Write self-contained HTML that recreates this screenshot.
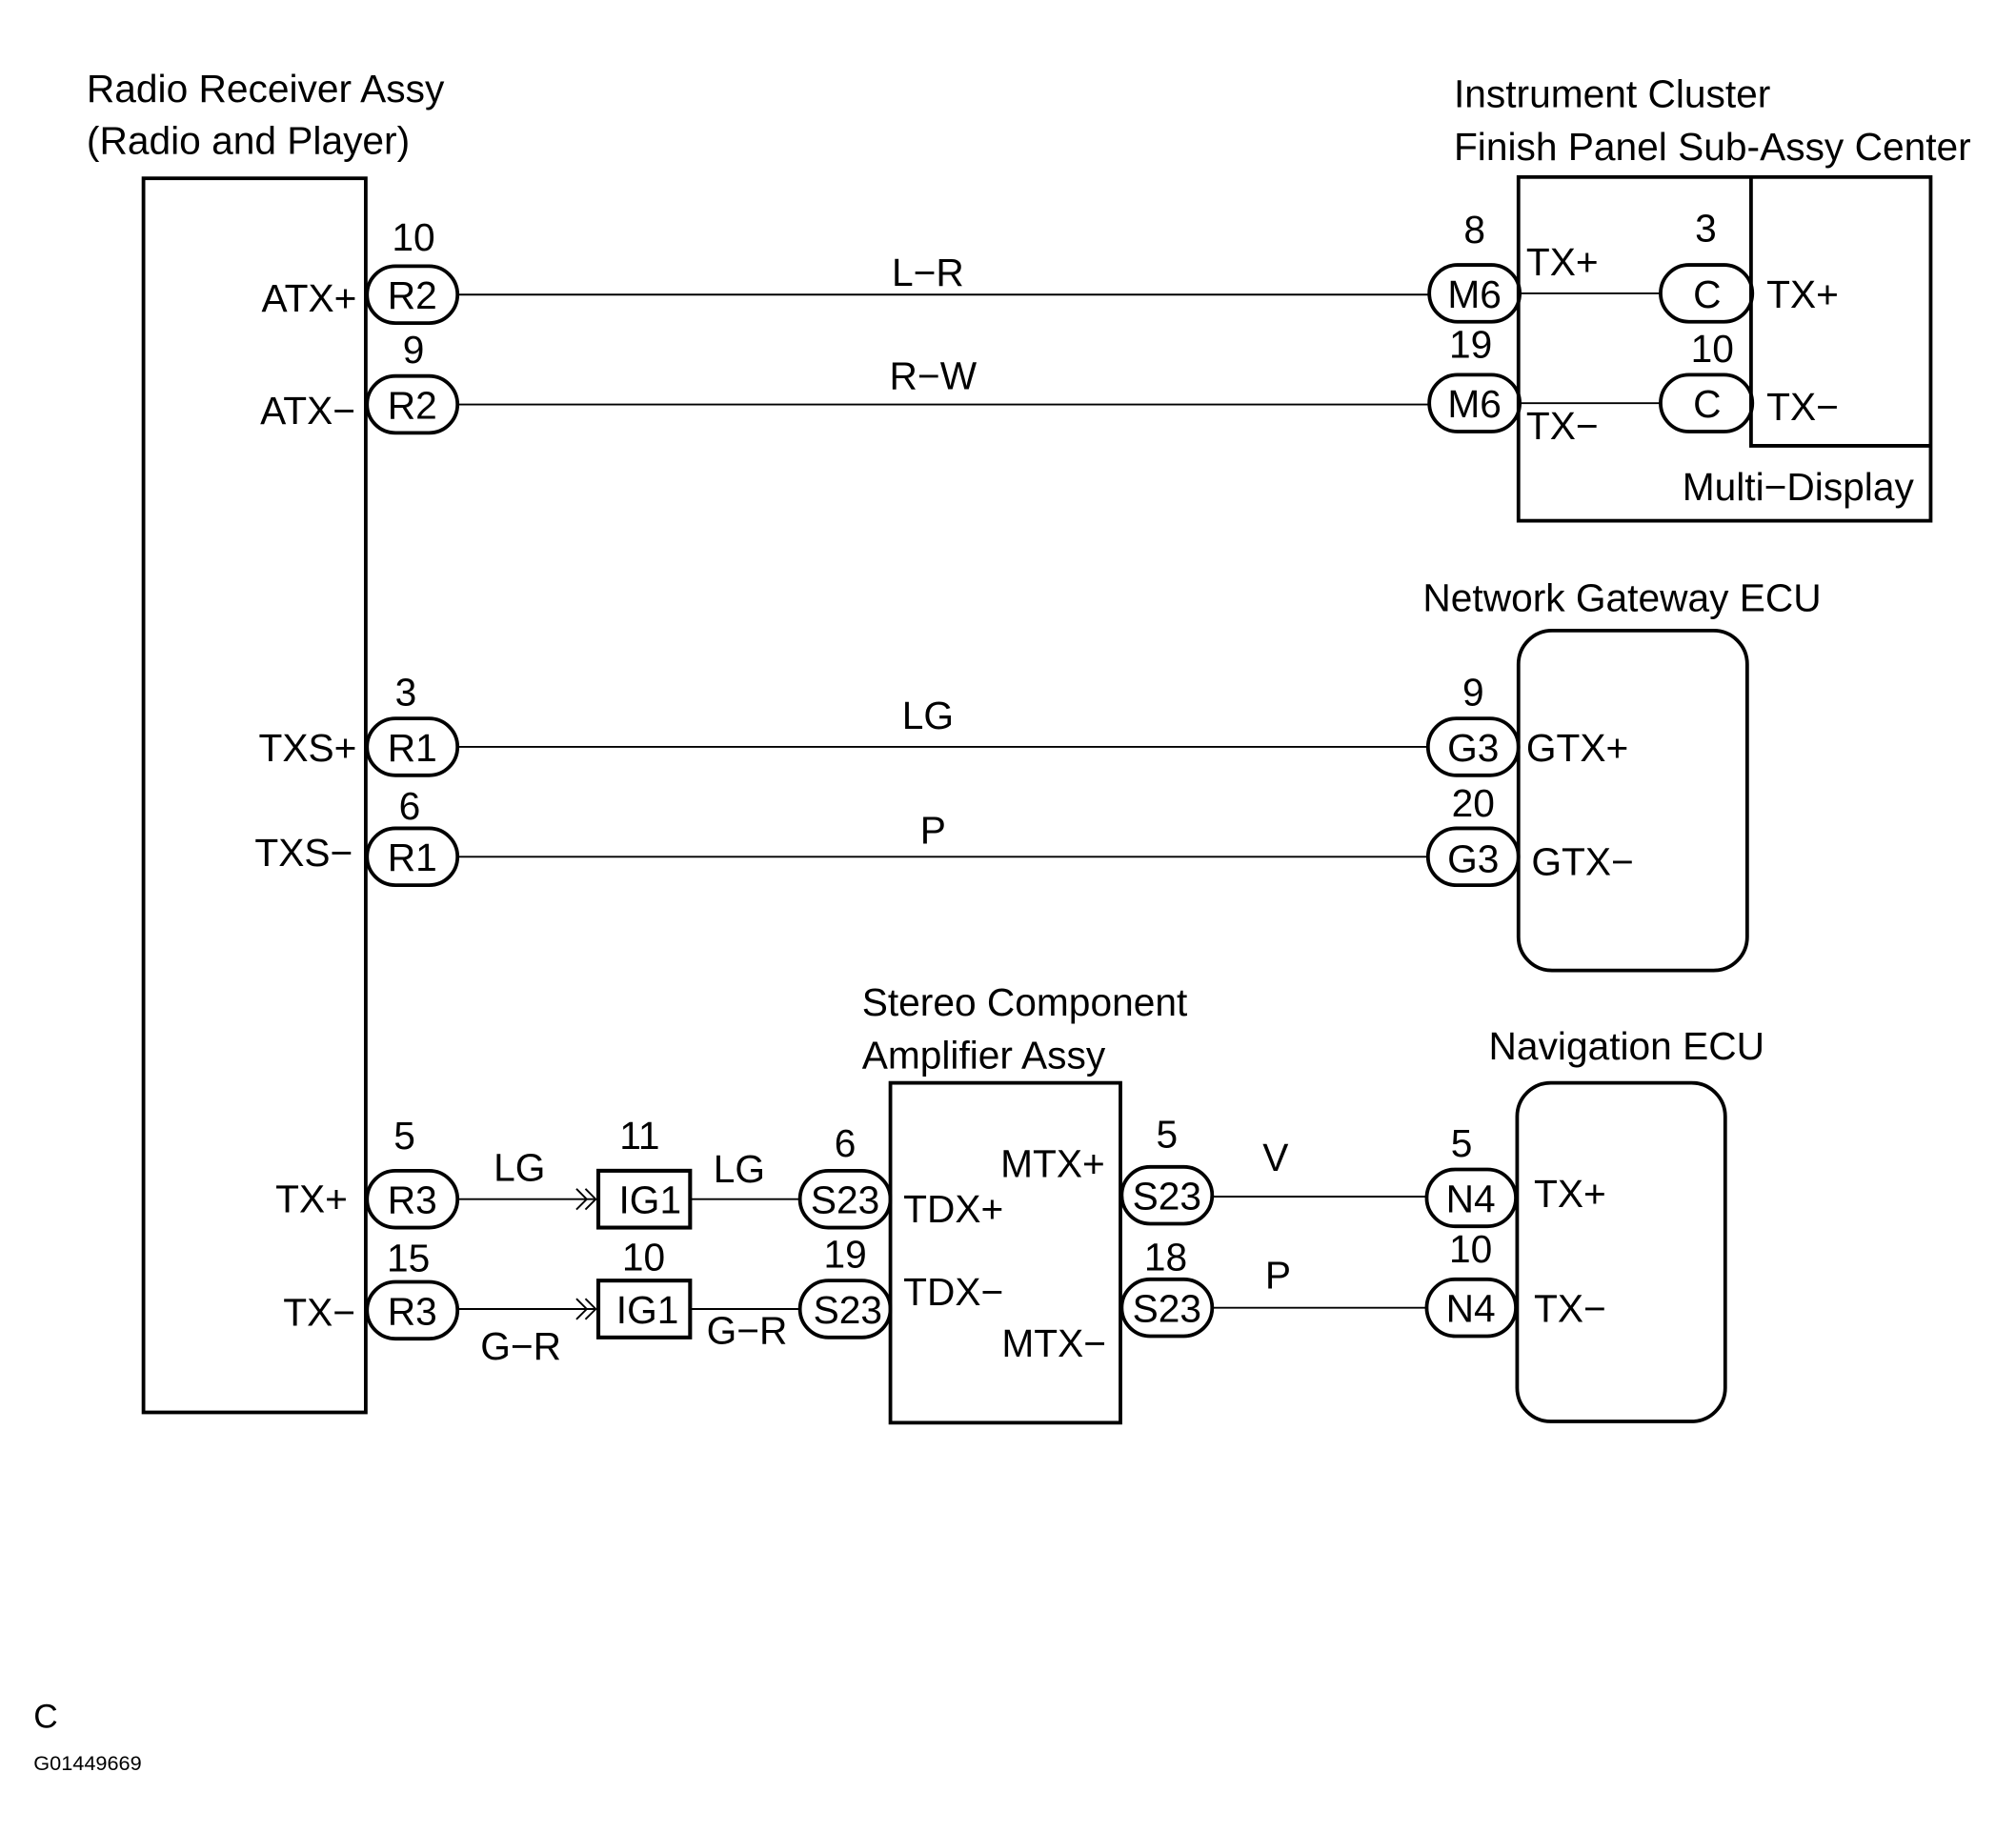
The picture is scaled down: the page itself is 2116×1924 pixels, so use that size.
<!DOCTYPE html>
<html><head><meta charset="utf-8"><style>html,body{margin:0;padding:0;background:#fff}svg{display:block}</style></head><body>
<svg width="2116" height="1924" viewBox="0 0 1560 1418.5" xmlns="http://www.w3.org/2000/svg" font-family="Liberation Sans, sans-serif" font-size="30" fill="#000">
<rect width="1560" height="1419" fill="#fff"/>
<g fill="none" stroke="#000" stroke-width="2.8">
<rect x="111" y="138" width="172" height="955"/>
<rect x="1175" y="137" width="319" height="266"/>
<polyline points="1355,137 1355,345 1494,345"/>
<rect x="1175" y="488" width="177" height="263" rx="26"/>
<rect x="689" y="838" width="178" height="263"/>
<rect x="1174" y="838" width="161" height="262" rx="26"/>
<rect x="463" y="906" width="71" height="44" stroke-width="3"/>
<rect x="463" y="991" width="71" height="44" stroke-width="3"/>
<rect x="284" y="206" width="70" height="44" rx="22"/>
<rect x="284" y="291" width="70" height="44" rx="22"/>
<rect x="284" y="556" width="70" height="44" rx="22"/>
<rect x="284" y="641" width="70" height="44" rx="22"/>
<rect x="284" y="906" width="70" height="44" rx="22"/>
<rect x="284" y="992" width="70" height="44" rx="22"/>
<rect x="1106" y="205" width="70" height="44" rx="22"/>
<rect x="1106" y="290" width="70" height="44" rx="22"/>
<rect x="1285" y="205" width="71" height="44" rx="22"/>
<rect x="1285" y="290" width="71" height="44" rx="22"/>
<rect x="1105" y="556" width="70" height="44" rx="22"/>
<rect x="1105" y="641" width="70" height="44" rx="22"/>
<rect x="619" y="906" width="70" height="44" rx="22"/>
<rect x="619" y="991" width="70" height="44" rx="22"/>
<rect x="868" y="903" width="70" height="44" rx="22"/>
<rect x="868" y="990" width="70" height="44" rx="22"/>
<rect x="1104" y="905" width="69" height="44" rx="22"/>
<rect x="1104" y="990" width="69" height="44" rx="22"/>
</g>
<g stroke="#000" stroke-width="1.4" fill="none">
<line x1="354" y1="228" x2="1106" y2="228"/>
<line x1="354" y1="313" x2="1106" y2="313"/>
<line x1="1176" y1="227" x2="1285" y2="227"/>
<line x1="1176" y1="312" x2="1285" y2="312"/>
<line x1="354" y1="578" x2="1105" y2="578"/>
<line x1="354" y1="663" x2="1105" y2="663"/>
<line x1="354" y1="928" x2="460" y2="928"/>
<line x1="354" y1="1013" x2="460" y2="1013"/>
<polyline points="446,920 454,928 446,936"/><polyline points="453,920 461,928 453,936"/>
<polyline points="446,1005 454,1013 446,1021"/><polyline points="453,1005 461,1013 453,1021"/>
<line x1="534" y1="928" x2="619" y2="928"/>
<line x1="534" y1="1013" x2="619" y2="1013"/>
<line x1="938" y1="926" x2="1104" y2="926"/>
<line x1="938" y1="1012" x2="1104" y2="1012"/>
</g>
<g>
<text x="67" y="79">Radio Receiver Assy</text>
<text x="67" y="119">(Radio and Player)</text>
<text x="1125" y="83">Instrument Cluster</text>
<text x="1125" y="124">Finish Panel Sub-Assy Center</text>
<text x="1101" y="473">Network Gateway ECU</text>
<text x="667" y="786">Stereo Component</text>
<text x="667" y="827">Amplifier Assy</text>
<text x="1152" y="820">Navigation ECU</text>
</g>
<g text-anchor="end">
<text x="276" y="241">ATX+</text>
<text x="275" y="328">ATX−</text>
<text x="276" y="589">TXS+</text>
<text x="273" y="670">TXS−</text>
<text x="269" y="938">TX+</text>
<text x="275" y="1026">TX−</text>
<text x="1481" y="387">Multi−Display</text>
<text x="855" y="911">MTX+</text>
<text x="856" y="1050">MTX−</text>
</g>
<g>
<text x="1181" y="213">TX+</text>
<text x="1181" y="340">TX−</text>
<text x="1367" y="238">TX+</text>
<text x="1367" y="325">TX−</text>
<text x="1181" y="589">GTX+</text>
<text x="1185" y="677">GTX−</text>
<text x="699" y="946">TDX+</text>
<text x="699" y="1010">TDX−</text>
<text x="1187" y="934">TX+</text>
<text x="1187" y="1023">TX−</text>
</g>
<g text-anchor="middle">
<text x="320" y="194">10</text><text x="319" y="239">R2</text>
<text x="320" y="281">9</text><text x="319" y="324">R2</text>
<text x="314" y="546">3</text><text x="319" y="589">R1</text>
<text x="317" y="634">6</text><text x="319" y="674">R1</text>
<text x="313" y="889">5</text><text x="319" y="939">R3</text>
<text x="316" y="984">15</text><text x="319" y="1025">R3</text>
<text x="718" y="221">L−R</text>
<text x="722" y="301">R−W</text>
<text x="718" y="564">LG</text>
<text x="722" y="653">P</text>
<text x="1141" y="188">8</text><text x="1141" y="238">M6</text>
<text x="1138" y="277">19</text><text x="1141" y="323">M6</text>
<text x="1320" y="187">3</text><text x="1321" y="238">C</text>
<text x="1325" y="280">10</text><text x="1321" y="323">C</text>
<text x="1140" y="546">9</text><text x="1140" y="589">G3</text>
<text x="1140" y="632">20</text><text x="1140" y="675">G3</text>
<text x="402" y="914">LG</text>
<text x="403" y="1052">G−R</text>
<text x="495" y="889">11</text><text x="503" y="939">IG1</text>
<text x="498" y="983">10</text><text x="501" y="1024">IG1</text>
<text x="572" y="915">LG</text>
<text x="578" y="1040">G−R</text>
<text x="654" y="895">6</text><text x="654" y="939">S23</text>
<text x="654" y="981">19</text><text x="656" y="1024">S23</text>
<text x="903" y="888">5</text><text x="903" y="936">S23</text>
<text x="902" y="983">18</text><text x="903" y="1023">S23</text>
<text x="987" y="906">V</text>
<text x="989" y="997">P</text>
<text x="1131" y="895">5</text><text x="1138" y="938">N4</text>
<text x="1138" y="977">10</text><text x="1138" y="1023">N4</text>
</g>
<text x="26" y="1337" font-size="26">C</text>
<text x="26" y="1370" font-size="16">G01449669</text>
</svg>
</body></html>
